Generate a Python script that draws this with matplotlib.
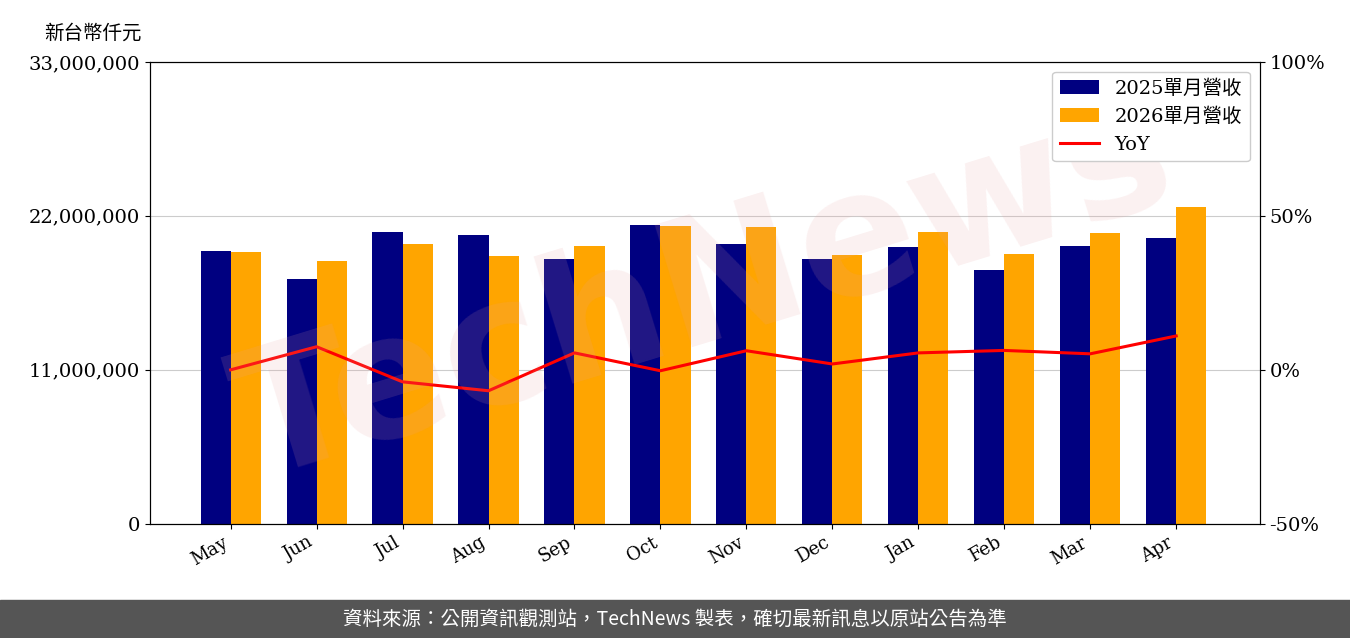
import matplotlib
matplotlib.use("Agg")
import matplotlib.pyplot as plt
import numpy as np

months = ["May","Jun","Jul","Aug","Sep","Oct","Nov","Dec","Jan","Feb","Mar","Apr"]
rev_2025 = [19.5,17.5,20.86,20.64,18.93,21.36,20.0,18.93,19.79,18.14,19.86,20.43]
rev_2026 = [19.43,18.79,20.0,19.14,19.86,21.29,21.21,19.21,20.86,19.29,20.79,22.64]
yoy = [0.0,7.5,-3.9,-6.8,5.5,-0.3,6.2,1.9,5.5,6.3,5.2,11.0]

fam = ['DejaVu Serif','Noto Sans CJK TC']
plt.rcParams['font.family'] = fam

fig = plt.figure(figsize=(13.5,6.38), dpi=100)
ax = fig.add_axes([0.111,0.179,0.822,0.724])
x = np.arange(len(months))
w = 0.35
b1 = ax.bar(x-w/2, np.array(rev_2025)*1e6, w, color='#000080', label='2025單月營收')
b2 = ax.bar(x+w/2, np.array(rev_2026)*1e6, w, color='#FFA500', label='2026單月營收')
ax.set_ylim(0,33e6)
ax.set_yticks([0,11e6,22e6,33e6])
ax.set_yticklabels(['0','11,000,000','22,000,000','33,000,000'], fontsize=14)
ax.yaxis.grid(True, color='#cccccc')
ax.set_axisbelow(True)
ax.set_xlim(-0.94,11.97)
ax.set_xticks(x)
ax.set_xticklabels(months, rotation=30, ha='right', fontsize=13)
ax2 = ax.twinx()
l, = ax2.plot(x, yoy, color='red', lw=2.2, label='YoY')
ax2.set_ylim(-50,100)
ax2.set_yticks([-50,0,50,100])
ax2.set_yticklabels(['-50%','0%','50%','100%'], fontsize=14)
ax2.legend(handles=[b1,b2,l], loc='upper right', fontsize=14, framealpha=1)
ax2.text(0.5,0.5,'TechNews', transform=ax2.transAxes, fontsize=125, rotation=17,
         color='#e8a0a0', alpha=0.15, ha='center', va='center',
         family=['DejaVu Sans'], weight='bold')
fig.text(0.033,0.94,'新台幣仟元', fontsize=14, family=['Noto Sans CJK TC'])
fig.patches.append(plt.Rectangle((0,0),1,0.06,transform=fig.transFigure,color='#555555',zorder=0))
fig.text(0.5,0.03,'資料來源：公開資訊觀測站，TechNews 製表，確切最新訊息以原站公告為準',
         color='white', fontsize=14, ha='center', va='center', family=['Noto Sans CJK TC','DejaVu Sans'])
fig.savefig('out.png')
